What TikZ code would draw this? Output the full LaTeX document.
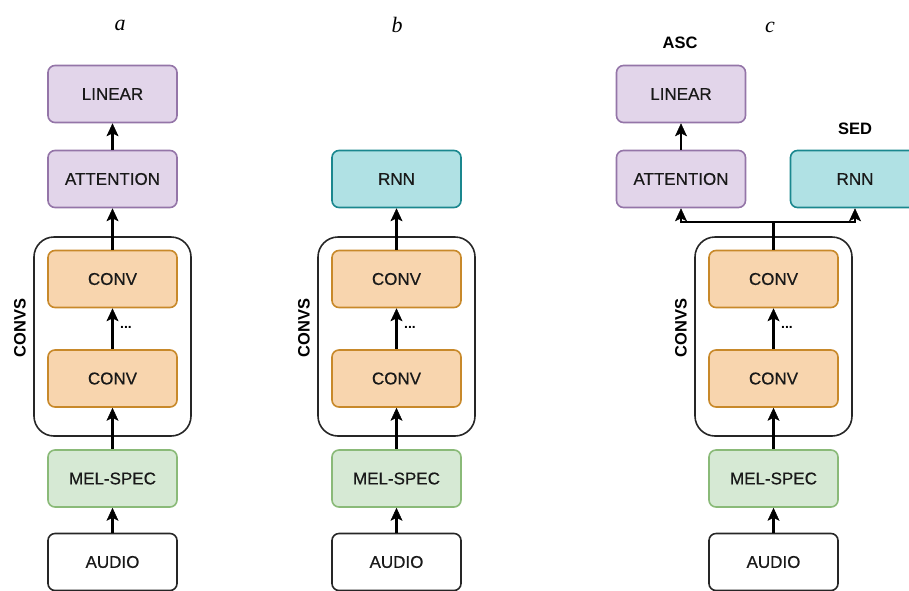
\documentclass[tikz,border=0pt]{standalone}
\usepackage{fontspec}
\setmainfont{Liberation Sans}
\newfontfamily\boxfont{Liberation Sans}[BoldFont={Liberation Sans},BoldFeatures={FakeBold=0.5}]
\newfontfamily\serifit{Liberation Serif}
\usetikzlibrary{arrows.meta}
\definecolor{purfill}{HTML}{E2D5EA}
\definecolor{purdraw}{HTML}{9475A8}
\definecolor{orfill}{HTML}{F8D5AE}
\definecolor{ordraw}{HTML}{C8892A}
\definecolor{grfill}{HTML}{D6E9D4}
\definecolor{grdraw}{HTML}{8ABA78}
\definecolor{tlfill}{HTML}{B0E1E4}
\definecolor{tldraw}{HTML}{1A878E}
\tikzset{
  x=1pt,y=-1pt,
  box/.style={rectangle,rounded corners=7pt,minimum width=129pt,minimum height=57pt,line width=1.6pt,font=\boxfont\bfseries\fontsize{17}{19}\selectfont,text=black!90,inner sep=0pt},
  purbox/.style={box,fill=purfill,draw=purdraw},
  orbox/.style={box,fill=orfill,draw=ordraw},
  grbox/.style={box,fill=grfill,draw=grdraw},
  tlbox/.style={box,fill=tlfill,draw=tldraw},
  whbox/.style={box,fill=white,draw=black!85},
  cont/.style={rectangle,rounded corners=20pt,draw=black!85,line width=1.6pt,minimum width=157pt,minimum height=199pt,inner sep=0pt},
  tipsty/.tip={Stealth[length=13pt,width=12pt,inset=3pt,line width=0.5pt]},
  arr/.style={line width=2.1pt,-tipsty},
  ln/.style={line width=2.1pt},
  blab/.style={font=\bfseries\fontsize{16.5}{18}\selectfont},
  plab/.style={font=\serifit\itshape\fontsize{22}{24}\selectfont},
  dots/.style={font=\bfseries\fontsize{14}{14}\selectfont,inner sep=0pt}
}
\begin{document}
\begin{tikzpicture}
\useasboundingbox (0,0) rectangle (909,590);
% ---------- panel a
\node[plab] (la) at (120,25) {a};
\node[cont] (ca) at (112.5,336.5) {};
\node[blab,rotate=90] (cla) at (20,328) {CONVS};
\node[purbox] (lina) at (112.5,94) {LINEAR};
\node[purbox] (atta) at (112.5,179) {ATTENTION};
\node[orbox] (c2a) at (112.5,279) {CONV};
\node[orbox] (c1a) at (112.5,378.5) {CONV};
\node[grbox] (mela) at (112.5,478.5) {MEL-SPEC};
\node[whbox] (auda) at (112.5,562) {AUDIO};
\node[dots] (da) at (126,327) {...};
\draw[arr] (auda) -- (mela);
\draw[arr] (mela) -- (c1a);
\draw[arr] (c1a) -- (c2a);
\draw[arr] (c2a) -- (atta);
\draw[arr] (atta) -- (lina);
% ---------- panel b
\node[plab] (lb) at (397,25) {b};
\node[cont] (cb) at (396.5,336.5) {};
\node[blab,rotate=90] (clb) at (304,328) {CONVS};
\node[tlbox] (rnnb) at (396.5,179) {RNN};
\node[orbox] (c2b) at (396.5,279) {CONV};
\node[orbox] (c1b) at (396.5,378.5) {CONV};
\node[grbox] (melb) at (396.5,478.5) {MEL-SPEC};
\node[whbox] (audb) at (396.5,562) {AUDIO};
\node[dots] (db) at (410,327) {...};
\draw[arr] (audb) -- (melb);
\draw[arr] (melb) -- (c1b);
\draw[arr] (c1b) -- (c2b);
\draw[arr] (c2b) -- (rnnb);
% ---------- panel c
\node[plab] (lc) at (770,27) {c};
\node[cont] (cc) at (773.5,336.5) {};
\node[blab,rotate=90] (clc) at (681,328) {CONVS};
\node[purbox] (linc) at (681,94) {LINEAR};
\node[purbox] (attc) at (681,179) {ATTENTION};
\node[tlbox] (rnnc) at (855,179) {RNN};
\node[blab] (asc) at (680,43) {ASC};
\node[blab] (sed) at (855,129) {SED};
\node[orbox] (c2c) at (773.5,279) {CONV};
\node[orbox] (c1c) at (773.5,378.5) {CONV};
\node[grbox] (melc) at (773.5,478.5) {MEL-SPEC};
\node[whbox] (audc) at (773.5,562) {AUDIO};
\node[dots] (dc) at (787,327) {...};
\coordinate (sp) at (773.5,222);
\draw[arr] (audc) -- (melc);
\draw[arr] (melc) -- (c1c);
\draw[arr] (c1c) -- (c2c);
\draw[ln] (c2c.north) -- (sp);
\draw[arr] (sp) -| (attc.south);
\draw[arr] (sp) -| (rnnc.south);
\draw[arr] (attc) -- (linc);
\end{tikzpicture}
\end{document}
